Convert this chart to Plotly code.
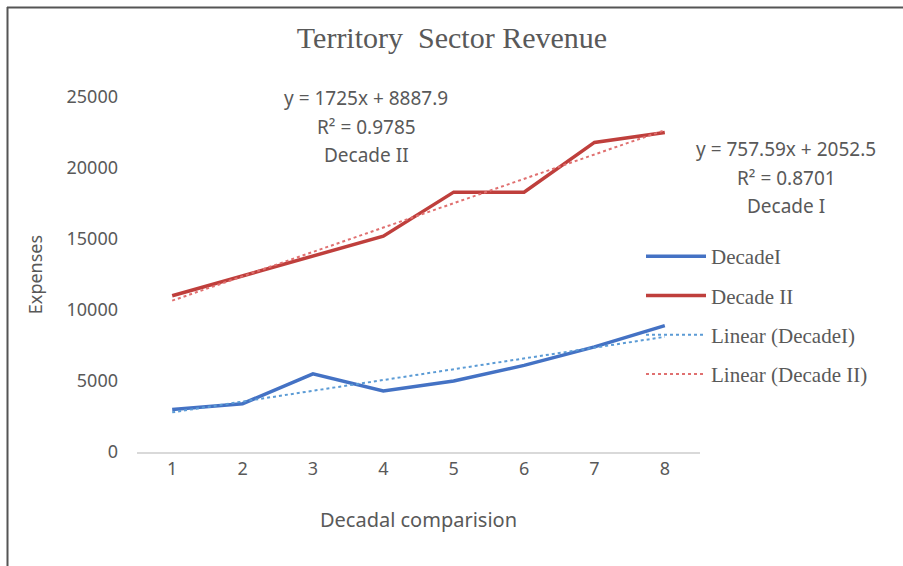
import numpy as np
import plotly.graph_objects as go

periods = [1, 2, 3, 4, 5, 6, 7, 8]
decade_1 = [3000, 3400, 5500, 4300, 5000, 6100, 7400, 8900]
decade_2 = [11000, 12400, 13800, 15200, 18300, 18300, 21800, 22500]
y_ticks = [0, 5000, 10000, 15000, 20000, 25000]

W, H = 903, 566
L, R, T, B = 137, 203, 97, 114
pw, ph = W - L - R, H - T - B

def px(x):
    return (x - L) / pw

def py(y):
    return (H - B - y) / ph

x = np.array(periods, dtype=float)
s1, i1 = np.polyfit(x, decade_1, 1)
s2, i2 = np.polyfit(x, decade_2, 1)
t1 = s1 * x + i1
t2 = s2 * x + i2

BLUE = "#4472C4"
RED = "#BF3F3C"
GREY = "#595959"

fig = go.Figure()
fig.add_trace(go.Scatter(x=periods, y=decade_1, mode="lines", name="DecadeI",
                         line=dict(color=BLUE, width=3.5), legendgroup="a"))
fig.add_trace(go.Scatter(x=periods, y=decade_2, mode="lines", name="Decade II",
                         line=dict(color=RED, width=3.5), legendgroup="b"))
fig.add_trace(go.Scatter(x=periods, y=t1, mode="lines", name="Linear (DecadeI)",
                         line=dict(color="#5B9BD5", width=2, dash="dot"), legendgroup="c"))
fig.add_trace(go.Scatter(x=periods, y=t2, mode="lines", name="Linear (Decade II)",
                         line=dict(color="#E07070", width=2, dash="dot"), legendgroup="d"))

sans = "Noto Sans"
serif = "Liberation Serif"

ann = []
eq2 = ["y = 1725x + 8887.9", "R² = 0.9785", "Decade II"]
for k, t in enumerate(eq2):
    ann.append(dict(text=t, x=px(366), y=py(98 + 28.5 * k), xref="paper", yref="paper",
                    showarrow=False, xanchor="center", yanchor="middle",
                    font=dict(family=sans, size=19, color=GREY)))
eq1 = ["y = 757.59x + 2052.5", "R² = 0.8701", "Decade I"]
for k, t in enumerate(eq1):
    ann.append(dict(text=t, x=px(786), y=py(149 + 28.5 * k), xref="paper", yref="paper",
                    showarrow=False, xanchor="center", yanchor="middle",
                    font=dict(family=sans, size=19, color=GREY)))

fig.update_layout(
    width=W, height=H,
    margin=dict(l=L, r=R, t=T, b=B),
    paper_bgcolor="white", plot_bgcolor="white",
    title=dict(text="Territory  Sector Revenue", x=452 / W, xanchor="center",
               y=1 - 37 / H, yanchor="middle",
               font=dict(family=serif, size=30, color=GREY)),
    showlegend=True,
    legend=dict(x=px(641), y=py(236), xanchor="left", yanchor="top",
                font=dict(family=serif, size=21, color=GREY),
                tracegroupgap=9, itemwidth=60, bgcolor="rgba(0,0,0,0)"),
    annotations=ann,
    shapes=[
        dict(type="line", xref="paper", yref="paper", x0=px(7), x1=px(W + 5),
             y0=py(7.5), y1=py(7.5), line=dict(color="#555555", width=2)),
        dict(type="line", xref="paper", yref="paper", x0=px(7.5), x1=px(7.5),
             y0=py(7), y1=py(H + 5), line=dict(color="#555555", width=2)),
    ],
)
fig.update_xaxes(range=[0.5, 8.5], tickvals=periods, showgrid=False, zeroline=False,
                 showline=True, linecolor="#D9D9D9", linewidth=1.5, ticks="",
                 tickfont=dict(family=sans, size=18, color=GREY),
                 title=dict(text="Decadal comparision", standoff=34,
                            font=dict(family=sans, size=20, color=GREY)))
fig.update_yaxes(range=[0, 25000], tickvals=y_ticks, ticktext=[str(v) for v in y_ticks],
                 showgrid=False, zeroline=False,
                 showline=False, ticks="", ticklabelstandoff=18,
                 tickfont=dict(family=sans, size=18, color=GREY),
                 title=dict(text="Expenses", standoff=19,
                            font=dict(family=sans, size=18, color=GREY)))

fig.write_html("out.html")
